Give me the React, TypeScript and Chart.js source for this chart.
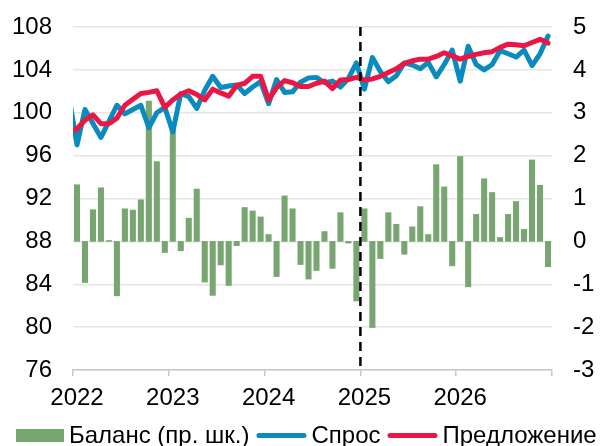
import React, { useEffect, useRef } from 'react';
import { Chart, registerables } from 'chart.js';

Chart.register(...registerables);

// Monthly balance, Jan 2022 .. Dec 2026 (right axis)
const balance = [
  1.32, -0.96, 0.74, 1.25, 0.02, -1.27, 0.76, 0.73, 0.97, 3.27, 1.86, -0.26,
  2.6, -0.22, 0.54, 1.22, -0.95, -1.26, -0.55, -1.03, -0.1, 0.79, 0.71, 0.57,
  0.16, -0.82, 1.06, 0.76, -0.54, -0.88, -0.68, 0.23, -0.63, 0.67, -0.04, -1.39,
  0.76, -2.01, -0.4, 0.67, 0.4, -0.3, 0.34, 0.81, 0.16, 1.79, 1.27, -0.57,
  1.98, -1.06, 0.63, 1.46, 1.14, 0.09, 0.63, 0.93, 0.28, 1.9, 1.31, -0.59,
];

// Demand, Dec 2021 (clipped at the left edge) then Jan 2022 .. Dec 2026
const demand = [
  101.5,
  97.0, 100.3, 99.0, 97.7, 99.2, 100.7, 99.9, 100.3, 100.7, 98.6, 100.0, 100.5,
  98.2, 101.8, 101.5, 100.4, 102.1, 103.4, 102.35, 102.5, 102.6, 101.8, 102.4, 102.9,
  100.85, 103.1, 101.9, 101.95, 102.85, 103.25, 103.3, 102.8, 102.95, 102.4, 103.2, 104.65,
  102.2, 105.15, 103.85, 102.9, 103.45, 104.65, 104.45, 104.1, 104.7, 103.35, 104.5, 105.85,
  102.95, 106.2, 104.5, 104.0, 104.5, 105.8, 105.5, 105.2, 105.85, 104.4, 105.5, 107.15,
];

// Supply, Dec 2021 (clipped at the left edge) then Jan 2022 .. Dec 2026
const supply = [
  98.2,
  98.5, 99.3, 99.8, 98.98, 98.98, 99.5, 100.7, 101.25, 101.8, 101.9, 102.05, 100.5,
  101.2, 101.75, 102.05, 101.7, 101.2, 102.2, 101.85, 101.55, 102.55, 102.75, 103.4, 103.4,
  101.2, 102.35, 103.0, 102.8, 102.45, 102.45, 102.75, 102.95, 102.25, 103.05, 103.1, 103.3,
  103.05, 103.15, 103.4, 103.75, 104.1, 104.6, 104.85, 105.0, 105.0, 105.25, 105.6, 105.3,
  105.0, 105.25, 105.45, 105.6, 105.7, 106.1, 106.4, 106.35, 106.25, 106.55, 106.85, 106.5,
];

const yearTicks = [0, 12, 24, 36, 48, 60];
const yearLabels = ['2022', '2023', '2024', '2025', '2026', ''];
const forecastStart = 36; // Jan 2025
const seriesNames = ['Баланс (пр. шк.)', 'Спрос', 'Предложение'];

const FONT = '"Liberation Sans", Arial, sans-serif';
const GREEN = '#78a670';
const BLUE = '#0a8bbf';
const RED = '#ea1745';

const dashedLinePlugin = {
  id: 'forecastLine',
  afterDatasetsDraw(chart: any) {
    const { ctx, chartArea, scales } = chart;
    const x = scales.x.getPixelForValue(forecastStart);
    ctx.save();
    ctx.strokeStyle = '#000';
    ctx.lineWidth = 2.5;
    ctx.setLineDash([9, 6]);
    ctx.beginPath();
    ctx.moveTo(x, chartArea.top);
    ctx.lineTo(x, chartArea.bottom);
    ctx.stroke();
    ctx.restore();
  },
};

const legendPlugin = {
  id: 'customLegend',
  afterDraw(chart: any) {
    const ctx = chart.ctx;
    ctx.save();
    ctx.font = `24px ${FONT}`;
    ctx.textBaseline = 'alphabetic';
    let x = 16;
    const cy = 435.5;
    chart.data.datasets.forEach((ds: any) => {
      if (ds.type === 'line') {
        ctx.strokeStyle = ds.borderColor;
        ctx.lineWidth = 5;
        ctx.lineCap = 'round';
        ctx.beginPath();
        ctx.moveTo(x + 2.5, cy);
        ctx.lineTo(x + 47.5, cy);
        ctx.stroke();
        x += 50;
      } else {
        ctx.fillStyle = ds.backgroundColor;
        ctx.fillRect(x, cy - 6.5, 48, 13);
        x += 48;
      }
      x += 5;
      ctx.fillStyle = '#000';
      ctx.fillText(ds.label, x, 443);
      x += ctx.measureText(ds.label).width + 7;
    });
    ctx.restore();
  },
};

export default function App() {
  const ref = useRef<HTMLCanvasElement>(null);

  useEffect(() => {
    if (!ref.current) return;
    Chart.defaults.font.family = FONT;
    Chart.defaults.font.size = 24;
    Chart.defaults.color = '#000';

    const chart = new Chart(ref.current, {
      type: 'bar',
      data: {
        datasets: [
          {
            type: 'bar',
            label: seriesNames[0],
            data: balance.map((v, i) => ({ x: i + 0.5, y: v })),
            backgroundColor: GREEN,
            borderWidth: 0,
            barThickness: 5.4,
            yAxisID: 'y1',
            order: 3,
          } as any,
          {
            type: 'line',
            label: seriesNames[1],
            data: demand.map((v, i) => ({ x: i - 0.5, y: v })),
            borderColor: BLUE,
            backgroundColor: BLUE,
            borderWidth: 5,
            pointRadius: 0,
            tension: 0,
            borderJoinStyle: 'round',
            borderCapStyle: 'round',
            yAxisID: 'y',
            order: 2,
            clip: 0,
          } as any,
          {
            type: 'line',
            label: seriesNames[2],
            data: supply.map((v, i) => ({ x: i - 0.5, y: v })),
            borderColor: RED,
            backgroundColor: RED,
            borderWidth: 5,
            pointRadius: 0,
            tension: 0,
            borderJoinStyle: 'round',
            borderCapStyle: 'round',
            yAxisID: 'y',
            order: 1,
            clip: 0,
          } as any,
        ],
      },
      options: {
        animation: false,
        responsive: false,
        events: [],
        layout: { padding: { top: 27, left: 0, right: 0, bottom: 36 } },
        plugins: {
          legend: { display: false },
          tooltip: { enabled: false },
        },
        scales: {
          x: {
            type: 'linear',
            min: 0,
            max: 60,
            offset: false,
            afterBuildTicks: (scale: any) => {
              scale.ticks = yearTicks.map((v) => ({ value: v }));
            },
            afterFit: (scale: any) => {
              scale.height = 40;
              scale.paddingLeft = 0;
              scale.paddingRight = 0;
            },
            ticks: {
              autoSkip: false,
              maxRotation: 0,
              padding: 8,
              labelOffset: 4,
              callback: (value: any) => yearLabels[yearTicks.indexOf(Number(value))] ?? '',
            },
            grid: {
              display: true,
              drawOnChartArea: false,
              drawTicks: true,
              tickLength: 6,
              color: '#c8c8c8',
              lineWidth: 1.5,
              offset: false,
            },
            border: { display: true, color: '#c8c8c8', width: 1.5 },
          },
          y: {
            type: 'linear',
            position: 'left',
            min: 76,
            max: 108,
            afterFit: (scale: any) => {
              scale.width = 73;
              scale.paddingTop = 0;
              scale.paddingBottom = 0;
            },
            ticks: { stepSize: 4, padding: 21 },
            grid: { color: '#e6e6e6', lineWidth: 1.5, drawTicks: false },
            border: { display: false },
          },
          y1: {
            type: 'linear',
            position: 'right',
            min: -3,
            max: 5,
            afterFit: (scale: any) => {
              scale.width = 48;
              scale.paddingTop = 0;
              scale.paddingBottom = 0;
            },
            ticks: { stepSize: 1, padding: 21 },
            grid: { display: false, drawTicks: false },
            border: { display: false },
          },
        },
      } as any,
      plugins: [dashedLinePlugin, legendPlugin],
    });

    return () => chart.destroy();
  }, []);

  return (
    <div style={{ position: 'fixed', left: 0, top: 0, width: 600, height: 446 }}>
      <canvas ref={ref} width={600} height={446} />
    </div>
  );
}
